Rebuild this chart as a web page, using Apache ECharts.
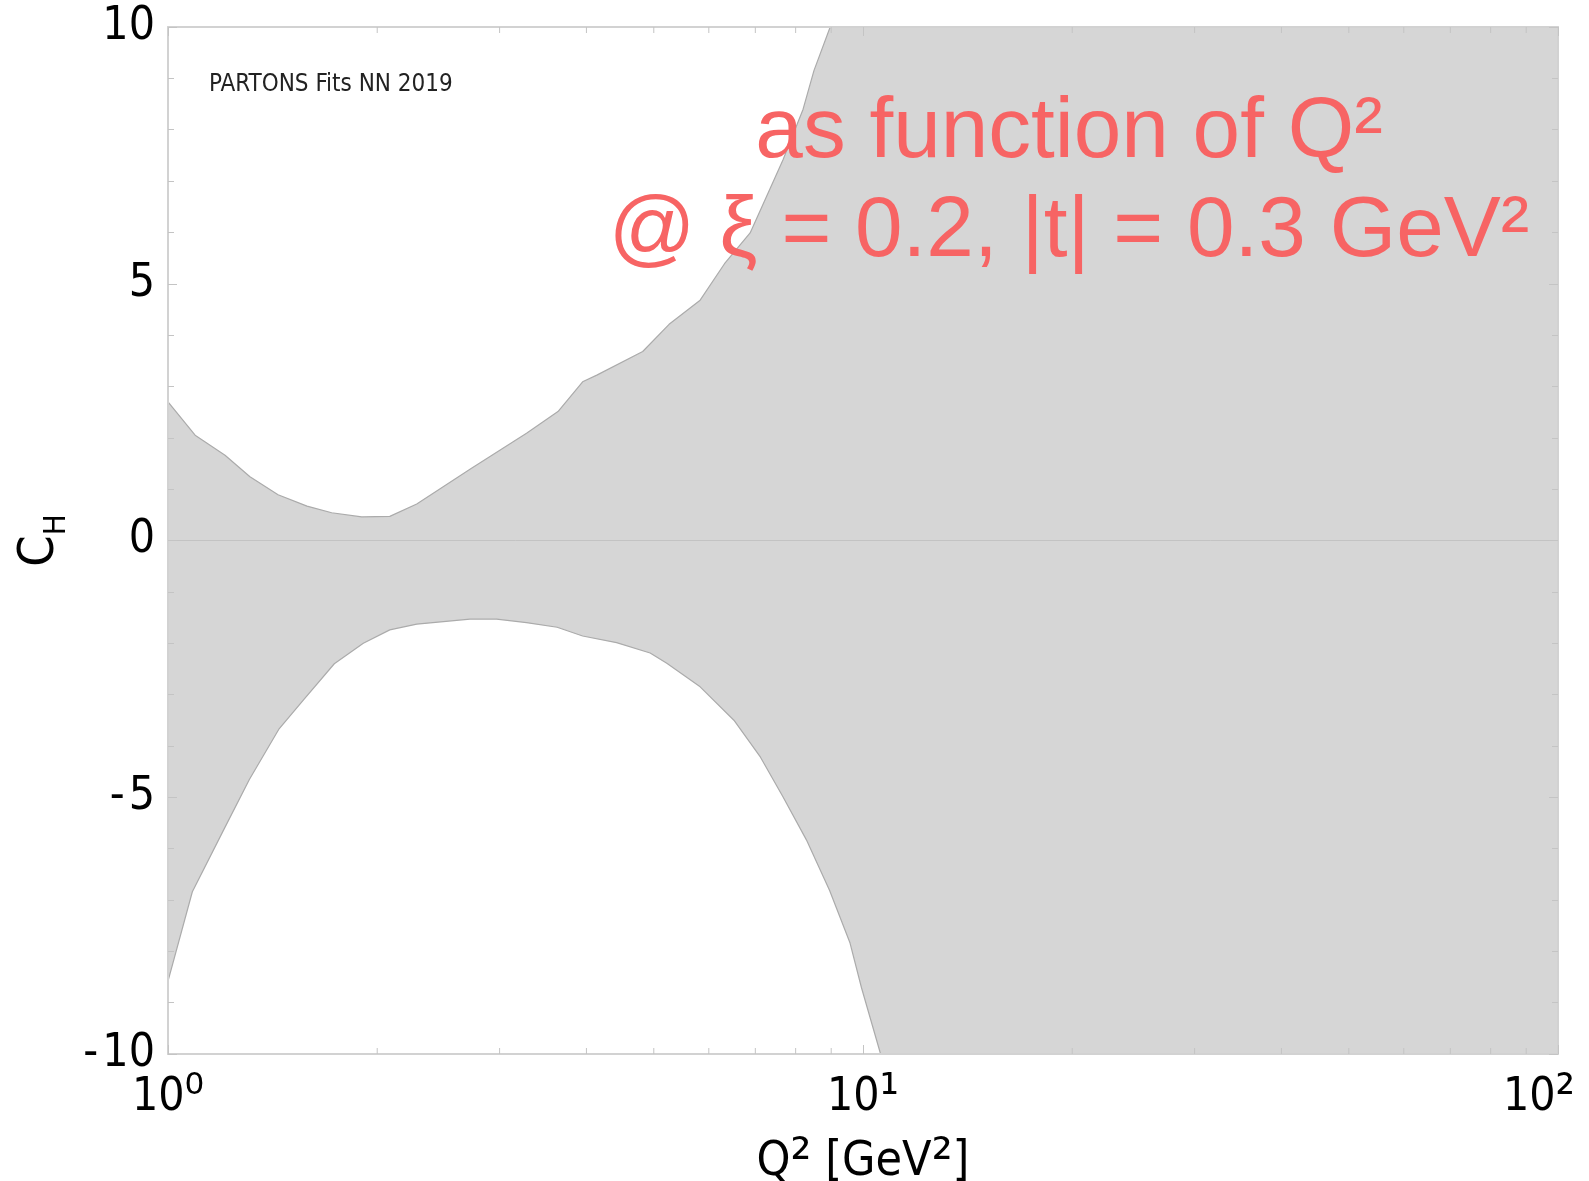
<!DOCTYPE html>
<html>
<head>
<meta charset="utf-8">
<script src="https://cdn.jsdelivr.net/npm/echarts@6/dist/echarts.min.js"></script>
<style>
  html, body { margin: 0; padding: 0; background: #ffffff; }
  #chart { width: 1589px; height: 1181px; }
</style>
</head>
<body>
<div id="chart"></div>
<script>
// Upper edge of the C_H band: Q^2 [GeV^2] and C_H
const upperQ2 = [1.00, 1.094, 1.208, 1.312, 1.44, 1.585, 1.72, 1.90, 2.085, 2.28, 2.73, 3.28, 3.64, 3.95, 4.14, 4.82, 5.26, 5.83, 6.32, 6.88, 7.67, 8.20, 8.50, 8.97];
const upperCH = [2.70, 2.05, 1.66, 1.24, 0.89, 0.67, 0.54, 0.46, 0.47, 0.71, 1.40, 2.09, 2.51, 3.09, 3.22, 3.68, 4.21, 4.68, 5.39, 5.99, 7.41, 8.40, 9.15, 10.0];

// Lower edge of the C_H band
const lowerQ2 = [1.00, 1.084, 1.20, 1.31, 1.443, 1.57, 1.735, 1.91, 2.085, 2.28, 2.72, 2.97, 3.28, 3.63, 3.95, 4.42, 4.94, 5.22, 5.83, 6.52, 7.12, 7.67, 8.29, 8.95, 9.58, 9.95, 10.6];
const lowerCH = [-8.58, -6.84, -5.66, -4.65, -3.68, -3.09, -2.40, -2.00, -1.74, -1.63, -1.53, -1.53, -1.60, -1.69, -1.86, -1.99, -2.19, -2.39, -2.85, -3.50, -4.22, -4.99, -5.83, -6.81, -7.84, -8.71, -10.0];

// Axis ranges and ticks
const xMin = 1, xMax = 100;
const yMin = -10, yMax = 10, yStep = 5;
const xMinorTicks = [2, 3, 4, 5, 6, 7, 8, 9, 20, 30, 40, 50, 60, 70, 80, 90];

// Texts
const stampText = 'PARTONS Fits NN 2019';
const noteLines = ['as function of Q\u00B2', '@ \u03BE = 0.2, |t| = 0.3 GeV\u00B2'];
const SUP = { 0: '\u2070', 1: '\u00B9', 2: '\u00B2' };

const upper = upperQ2.map((q, i) => [q, upperCH[i]]);
const lower = lowerQ2.map((q, i) => [q, lowerCH[i]]);

const FRAME = '#d2d2d2';
const TICK = '#c4c4c4';
const AXFONT = '"DejaVu Sans Condensed", "DejaVu Sans", sans-serif';
const NOTEFONT = '"Liberation Sans", Arial, sans-serif';

const chart = echarts.init(document.getElementById('chart'), null, { renderer: 'canvas' });

function clipRect(params) {
  const c = params.coordSys;
  return { type: 'rect', shape: { x: c.x, y: c.y, width: c.width, height: c.height } };
}

const commonX = {
  type: 'log', logBase: 10, min: xMin, max: xMax, gridIndex: 0, z: 10,
  splitLine: { show: false },
  axisLine: { show: true, onZero: false, lineStyle: { color: FRAME, width: 2 } },
  axisTick: { show: true, inside: true, length: 9, lineStyle: { color: TICK, width: 1 } },
  minorTick: { show: false }
};
const commonY = {
  type: 'value', min: yMin, max: yMax, interval: yStep, z: 10,
  splitLine: { show: false },
  axisLine: { show: true, onZero: false, lineStyle: { color: FRAME, width: 2 } },
  axisTick: { show: true, inside: true, length: 9, lineStyle: { color: TICK, width: 1 } },
  minorTick: { show: true, splitNumber: 5, length: 6, lineStyle: { color: TICK, width: 1 } }
};

chart.setOption({
  animation: false,
  backgroundColor: '#ffffff',
  grid: { left: 168, top: 27, right: 31, bottom: 127, containLabel: false, outerBoundsMode: 'none' },
  xAxis: [
    Object.assign({}, commonX, {
      position: 'bottom',
      axisLabel: {
        show: true, margin: 19, hideOverlap: false,
        formatter: function (v) {
          const e = Math.round(Math.log10(v));
          return v === xMax ? '{b|10}{sl|' + SUP[e] + '}' : '{b|10}{s|' + SUP[e] + '}';
        },
        rich: {
          b: { fontFamily: AXFONT, fontSize: 46, color: '#000', lineHeight: 50 },
          s: { fontFamily: AXFONT, fontSize: 54, color: '#000', lineHeight: 50 },
          sl: { fontFamily: AXFONT, fontSize: 54, color: '#000', lineHeight: 50, padding: [0, 38, 0, 0] }
        }
      },
      name: '{t|Q}{s|\u00B2}{t| [GeV}{s|\u00B2}{t|]}',
      nameLocation: 'middle',
      nameGap: 82,
      nameTextStyle: {
        rich: {
          t: { fontFamily: AXFONT, fontSize: 48, color: '#000', lineHeight: 54 },
          s: { fontFamily: AXFONT, fontSize: 58, color: '#000', lineHeight: 54 }
        }
      }
    }),
    Object.assign({}, commonX, { position: 'top', axisLabel: { show: false } })
  ],
  yAxis: [
    Object.assign({}, commonY, {
      position: 'left',
      axisLabel: {
        show: true, margin: 13, fontFamily: AXFONT, fontSize: 46, color: '#000',
        padding: [6, 0, 0, 0],
        formatter: function (v) { return v < 0 ? '-\u200A' + Math.abs(v) : String(v); }
      },
      name: '{c|C}{h|H}',
      nameLocation: 'middle',
      nameRotate: 90,
      nameGap: 100,
      nameTextStyle: {
        rich: {
          c: { fontFamily: AXFONT, fontSize: 50, color: '#000', lineHeight: 50 },
          h: { fontFamily: AXFONT, fontSize: 31, color: '#000', lineHeight: 31, padding: [34, 0, 0, 0] }
        }
      }
    }),
    Object.assign({}, commonY, { position: 'right', axisLabel: { show: false } })
  ],
  series: [
    {
      // shaded band between the two edges; it is open towards large Q^2
      type: 'custom',
      name: 'band',
      z: 2,
      silent: true,
      clip: true,
      data: [[xMin, 0]],
      renderItem: function (params, api) {
        const pts = [];
        upper.forEach(p => pts.push(api.coord(p)));
        pts.push(api.coord([xMax, yMax]));
        pts.push(api.coord([xMax, yMin]));
        for (let i = lower.length - 1; i >= 0; i--) pts.push(api.coord(lower[i]));
        return {
          type: 'polygon',
          shape: { points: pts },
          style: { fill: '#d6d6d6', stroke: null },
          clipPath: clipRect(params)
        };
      }
    },
    {
      type: 'line', name: 'upper', data: upper, z: 3, silent: true, clip: true,
      symbol: 'none', smooth: false,
      lineStyle: { color: '#ababab', width: 1.2 },
      markLine: {
        silent: true, symbol: 'none', label: { show: false },
        lineStyle: { color: '#c3c3c3', width: 1, type: 'solid' },
        data: [{ yAxis: 0 }]
      }
    },
    {
      type: 'line', name: 'lower', data: lower, z: 3, silent: true, clip: true,
      symbol: 'none', smooth: false,
      lineStyle: { color: '#ababab', width: 1.2 }
    },
    {
      // minor decade ticks on the bottom and top frame
      type: 'custom',
      name: 'xminor',
      z: 11,
      silent: true,
      data: xMinorTicks.map(v => [v, 0]),
      renderItem: function (params, api) {
        const v = api.value(0);
        const b = api.coord([v, yMin]);
        const t = api.coord([v, yMax]);
        const st = { stroke: TICK, lineWidth: 1 };
        return {
          type: 'group',
          children: [
            { type: 'line', shape: { x1: b[0], y1: b[1], x2: b[0], y2: b[1] - 6 }, style: st },
            { type: 'line', shape: { x1: t[0], y1: t[1], x2: t[0], y2: t[1] + 6 }, style: st }
          ]
        };
      }
    }
  ],
  graphic: [
    {
      type: 'text', x: 209, y: 85, z: 20,
      style: { text: stampText, fontFamily: AXFONT, fontSize: 24, fill: '#222', align: 'left', verticalAlign: 'middle' }
    },
    {
      type: 'text', x: 1069, y: 133, z: 20,
      style: { text: noteLines[0], fontFamily: NOTEFONT, fontSize: 85.5, fill: '#f76464', align: 'center', verticalAlign: 'middle' }
    },
    {
      type: 'text', x: 1069, y: 232, z: 20,
      style: { text: noteLines[1], fontFamily: NOTEFONT, fontSize: 85.5, fill: '#f76464', align: 'center', verticalAlign: 'middle' }
    }
  ]
});
</script>
</body>
</html>
